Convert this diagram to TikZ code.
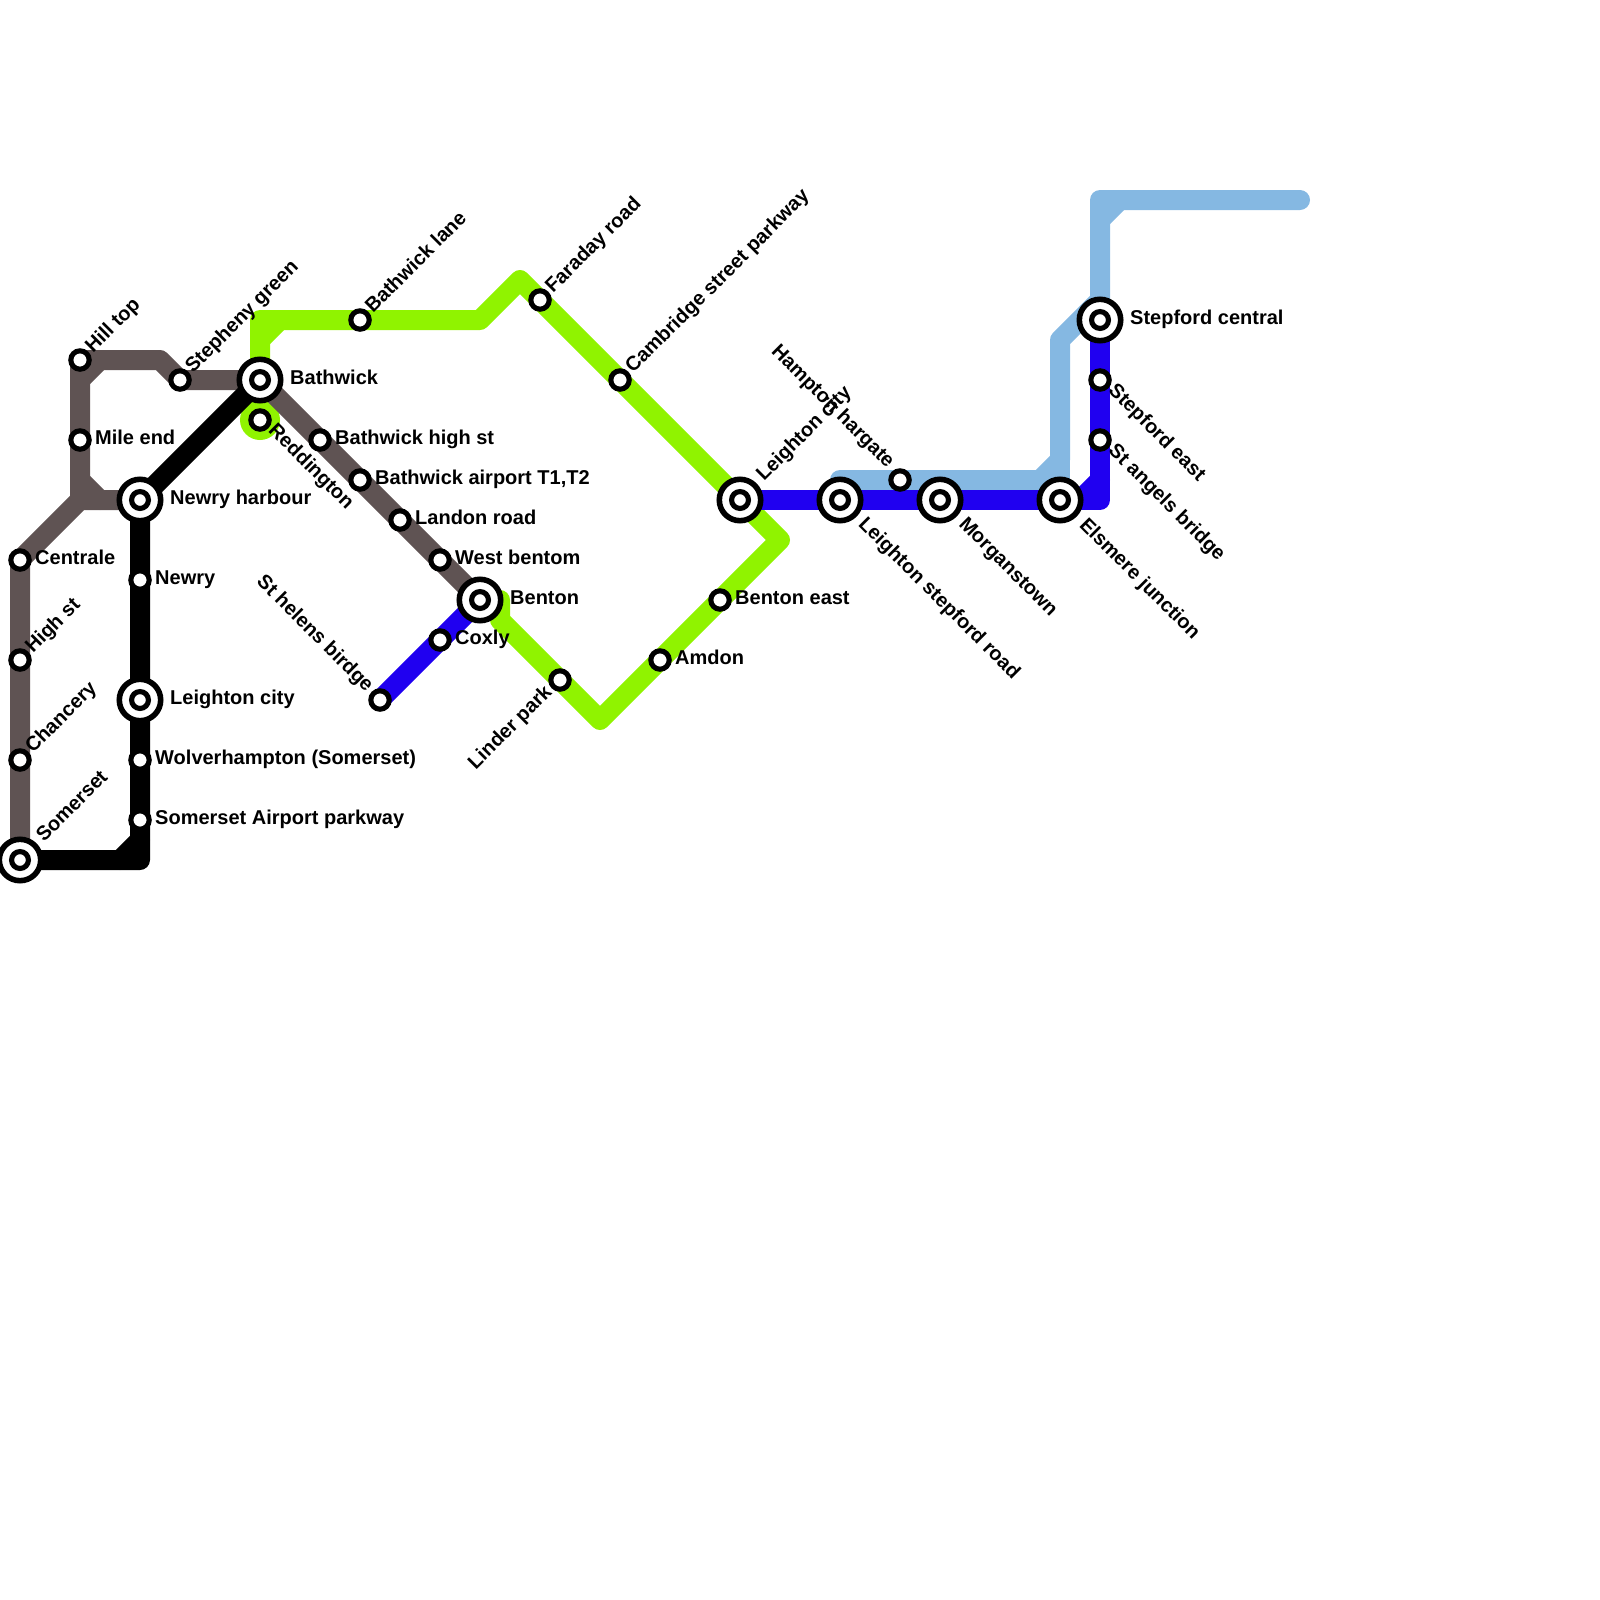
\documentclass[tikz,border=0pt]{standalone}
\usepackage{fontspec}
\setmainfont{Liberation Sans}
\usetikzlibrary{calc,backgrounds}
\definecolor{lnbrown}{HTML}{5F5353}
\definecolor{lngreen}{HTML}{90F300}
\definecolor{lnblue}{HTML}{2000F0}
\definecolor{lnsky}{HTML}{85B8E2}
\tikzset{
  x=1pt,y=-1pt,
  line/.style={line width=20pt,line cap=round,line join=round},
  stn/.style={circle,draw=black,fill=white,line width=5.1pt,inner sep=0pt,outer sep=0pt,minimum size=18.4pt},
  hub/.style={circle,draw=black,fill=white,line width=5.6pt,inner sep=0pt,outer sep=0pt,minimum size=41.4pt},
  hubcore/.style={circle,draw=black,fill=white,line width=5.1pt,inner sep=0pt,outer sep=0pt,minimum size=16.9pt},
  lab/.style={font=\bfseries\fontsize{20}{22}\selectfont,inner sep=0pt,text=black},
  rt/.style={lab,anchor=base west},
  ur/.style={lab,rotate=45,anchor=base west},
  dr/.style={lab,rotate=-45,anchor=base west},
  ul/.style={lab,rotate=45,anchor=base east},
  dl/.style={lab,rotate=-45,anchor=base east},
}
\newcommand{\Hub}[3]{\node[hub] (#1) at (#2,#3) {};\node[hubcore] (#1core) at (#2,#3) {};}
\begin{document}
\begin{tikzpicture}
\useasboundingbox (0,0) rectangle (1600,1600);
% stations
\node[stn] (hilltop) at (80,360) {};
\node[stn] (mileend) at (80,440) {};
\node[stn] (centrale) at (20,560) {};
\node[stn] (highst) at (20,660) {};
\node[stn] (chancery) at (20,760) {};
\Hub{somerset}{20}{860}
\Hub{newryh}{140}{500}
\node[stn] (newry) at (140,580) {};
\Hub{leightonc}{140}{700}
\node[stn] (wolver) at (140,760) {};
\node[stn] (airport) at (140,820) {};
\node[stn] (stepheny) at (180,380) {};
\Hub{bathwick}{260}{380}
\node[stn] (reddington) at (260,420) {};
\node[stn] (bhigh) at (320,440) {};
\node[stn] (bair) at (360,480) {};
\node[stn] (landon) at (400,520) {};
\node[stn] (westb) at (440,560) {};
\Hub{benton}{480}{600}
\node[stn] (coxly) at (440,640) {};
\node[stn] (sthelens) at (380,700) {};
\node[stn] (linder) at (560,680) {};
\node[stn] (amdon) at (660,660) {};
\node[stn] (bentone) at (720,600) {};
\Hub{leightonb}{740}{500}
\Hub{leightons}{840}{500}
\node[stn] (hampton) at (900,480) {};
\Hub{morgan}{940}{500}
\Hub{elsmere}{1060}{500}
\node[stn] (stangels) at (1100,440) {};
\node[stn] (stepe) at (1100,380) {};
\Hub{stepc}{1100}{320}
\node[stn] (blane) at (360,320) {};
\node[stn] (faraday) at (540,300) {};
\node[stn] (cambridge) at (620,380) {};
% bend points
\coordinate (gA) at (260,320);
\coordinate (gB) at (480,320);
\coordinate (gC) at (520,280);
\coordinate (gD) at (780,540);
\coordinate (gE) at (600,720);
\coordinate (gF) at (500,620);
\coordinate (gG) at (500,600);
\coordinate (gH) at (260,340);
\coordinate (gI) at (280,320);
\coordinate (bA) at (80,500);
\coordinate (bB) at (160,360);
\coordinate (bC) at (80,380);
\coordinate (bD) at (100,360);
\coordinate (bE) at (80,480);
\coordinate (bF) at (100,500);
\coordinate (kA) at (140,860);
\coordinate (kB) at (120,860);
\coordinate (kC) at (140,840);
\coordinate (sA) at (840,480);
\coordinate (sB) at (1040,480);
\coordinate (sC) at (1060,460);
\coordinate (sD) at (1060,340);
\coordinate (sE) at (1100,300);
\coordinate (sF) at (1100,200);
\coordinate (sG) at (1300,200);
\coordinate (sH) at (1100,220);
\coordinate (sI) at (1120,200);
\coordinate (nA) at (1100,500);
\coordinate (nB) at (1100,480);
\coordinate (nC) at (1080,500);
\begin{scope}[on background layer]
\fill[lngreen] (reddington.center) circle[radius=20pt];
\draw[line,lngreen] (bathwick.center) -- (gA) -- (gB) -- (gC) -- (gD) -- (gE) -- (gF) -- (gG) -- (benton.center);
\draw[line,lngreen] (gH) -- (gI);
\draw[line,lnbrown] (somerset.center) -- (centrale.center) -- (bA) -- (newryh.center);
\draw[line,lnbrown] (bA) -- (hilltop.center) -- (bB) -- (stepheny.center) -- (bathwick.center) -- (benton.center);
\draw[line,lnbrown] (bC) -- (bD);
\draw[line,lnbrown] (bE) -- (bF);
\draw[line,black] (somerset.center) -- (kA) -- (newryh.center) -- (bathwick.center);
\draw[line,black] (kB) -- (kC);
\draw[line,lnsky] (leightons.center) -- (sA) -- (sB) -- (sC) -- (sD) -- (sE) -- (sF) -- (sG);
\draw[line,lnsky] (sH) -- (sI);
\draw[line,lnsky] (sC) -- (elsmere.center);
\draw[line,lnblue] (stepc.center) -- (nA) -- (leightonb.center);
\draw[line,lnblue] (nB) -- (nC);
\draw[line,lnblue] (sthelens.center) -- (benton.center);
\end{scope}
% labels
\node[ur] (t1) at ($(hilltop)+(13,-6)$) {Hill top};
\node[rt] (t2) at ($(mileend)+(15,4.7)$) {Mile end};
\node[rt] (t3) at ($(centrale)+(15,4.7)$) {Centrale};
\node[ur] (t4) at ($(highst)+(13,-6)$) {High st};
\node[ur] (t5) at ($(chancery)+(13,-6)$) {Chancery};
\node[ur] (t6) at ($(somerset)+(24,-17)$) {Somerset};
\node[rt] (t7) at ($(newryh)+(30,4.7)$) {Newry harbour};
\node[rt] (t8) at ($(newry)+(15,4.7)$) {Newry};
\node[rt] (t9) at ($(leightonc)+(30,4.7)$) {Leighton city};
\node[rt] (t10) at ($(wolver)+(15,4.7)$) {Wolverhampton (Somerset)};
\node[rt] (t11) at ($(airport)+(15,4.7)$) {Somerset Airport parkway};
\node[ur] (t12) at ($(stepheny)+(13,-6)$) {Stepheny green};
\node[rt] (t13) at ($(bathwick)+(30,4.7)$) {Bathwick};
\node[dr] (t14) at ($(reddington)+(7.5,11.5)$) {Reddington};
\node[rt] (t15) at ($(bhigh)+(15,4.7)$) {Bathwick high st};
\node[rt] (t16) at ($(bair)+(15,4.7)$) {Bathwick airport T1,T2};
\node[rt] (t17) at ($(landon)+(15,4.7)$) {Landon road};
\node[rt] (t18) at ($(westb)+(15,4.7)$) {West bentom};
\node[rt] (t19) at ($(benton)+(30,4.7)$) {Benton};
\node[rt] (t20) at ($(coxly)+(15,4.7)$) {Coxly};
\node[dl] (t21) at ($(sthelens)+(-14,-7)$) {St helens birdge};
\node[ul] (t22) at ($(linder)+(-7,13)$) {Linder park};
\node[rt] (t23) at ($(amdon)+(15,4.7)$) {Amdon};
\node[rt] (t24) at ($(bentone)+(15,4.7)$) {Benton east};
\node[ur] (t25) at ($(leightonb)+(24,-18)$) {Leighton city};
\node[dr] (t26) at ($(leightons)+(17.5,25)$) {Leighton stepford road};
\node[dl] (t27) at ($(hampton)+(-13,-11)$) {Hampton hargate};
\node[dr] (t28) at ($(morgan)+(18,25)$) {Morganstown};
\node[dr] (t29) at ($(elsmere)+(18.5,26)$) {Elsmere junction};
\node[dr] (t30) at ($(stangels)+(7.5,11.5)$) {St angels bridge};
\node[dr] (t31) at ($(stepe)+(7.5,11.5)$) {Stepford east};
\node[rt] (t32) at ($(stepc)+(30,4.7)$) {Stepford central};
\node[ur] (t33) at ($(blane)+(13,-6)$) {Bathwick lane};
\node[ur] (t34) at ($(faraday)+(13,-6)$) {Faraday road};
\node[ur] (t35) at ($(cambridge)+(13,-6)$) {Cambridge street parkway};
\end{tikzpicture}
\end{document}
